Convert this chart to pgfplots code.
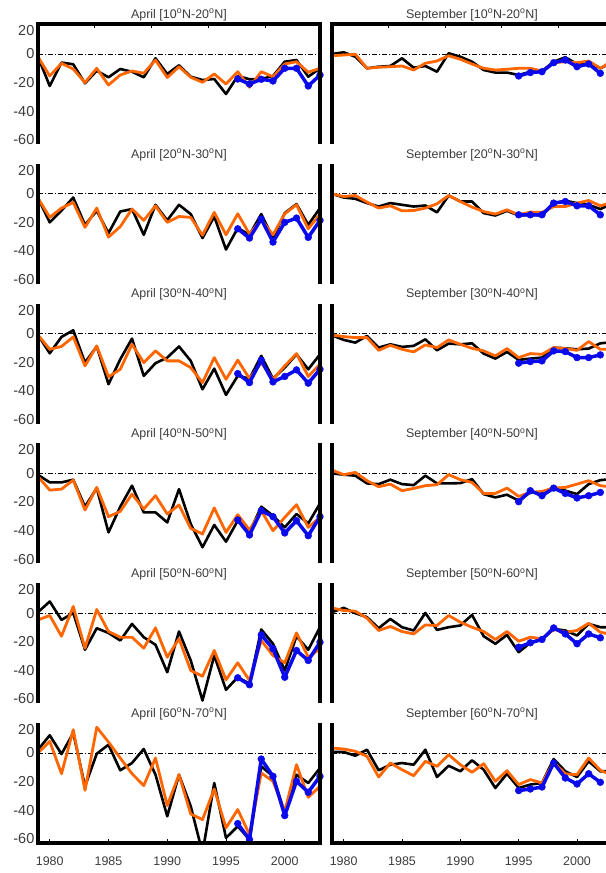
\documentclass[border=0pt]{standalone}
\usepackage{pgfplots}
\pgfplotsset{compat=1.18}
\usepackage{pgfplotstable}
\usepackage{fontspec}
\setmainfont{Liberation Sans}
\definecolor{myor}{RGB}{255,102,0}
\definecolor{myblue}{RGB}{10,10,235}
\definecolor{txt}{RGB}{60,60,60}

% ---------------- April panels ----------------
\pgfplotstableread{
yr k o b
1979 -2 -2 nan
1980 -22.4 -15.4 nan
1981 -6 -6.5 nan
1982 -7.2 -10.5 nan
1983 -20.5 -20 nan
1984 -11.7 -10 nan
1985 -16.3 -21.7 nan
1986 -10.5 -14.7 nan
1987 -12.4 -11.9 nan
1988 -16.3 -13.5 nan
1989 -3 -4.2 nan
1990 -14 -16.5 nan
1991 -7.9 -8.9 nan
1992 -15.9 -16.3 nan
1993 -18.2 -19.8 nan
1994 -17.5 -14 nan
1995 -28 -21 nan
1996 -15.4 -12.4 -17.5
1997 -17.7 -23.3 -21
1998 -17.5 -12.4 -17.7
1999 -15.4 -15.9 -18.9
2000 -5.4 -7 -10
2001 -4.2 -5.4 -10
2002 -15.9 -12.8 -22.4
2003 -10 -10 -14.7
}\tAa
\pgfplotstableread{
yr k o b
1979 -3 -3 nan
1980 -20 -16.5 nan
1981 -11.7 -10 nan
1982 -2.6 -6 nan
1983 -21.7 -23.5 nan
1984 -11.9 -10 nan
1985 -27.5 -30.3 nan
1986 -12.4 -23 nan
1987 -10.7 -10.7 nan
1988 -28.7 -18.6 nan
1989 -7.7 -8.4 nan
1990 -18.6 -20 nan
1991 -7.7 -15.9 nan
1992 -14.2 -16.5 nan
1993 -31 -29 nan
1994 -15.9 -13 nan
1995 -39 -28.7 nan
1996 -24 -14 -24.5
1997 -28.7 -28.2 -31
1998 -14.2 -18 -17.7
1999 -31 -28.7 -33.8
2000 -13.5 -14 -20
2001 -7.2 -7.7 -17
2002 -21.7 -24.5 -30.5
2003 -10 -14.2 -18.6
}\tAb
\pgfplotstableread{
yr k o b
1979 -1 -1 nan
1980 -13.8 -11 nan
1981 -2.3 -9 nan
1982 2.3 -2.3 nan
1983 -20.3 -22.6 nan
1984 -9 -8.6 nan
1985 -35.4 -30.3 nan
1986 -18 -25 nan
1987 -3.5 -7.5 nan
1988 -29.6 -20.3 nan
1989 -20.7 -12.1 nan
1990 -16.8 -19.1 nan
1991 -9 -19.1 nan
1992 -19.1 -23.8 nan
1993 -39 -34.3 nan
1994 -24.5 -16.8 nan
1995 -42.9 -32 nan
1996 -29.6 -18.6 -28
1997 -31.5 -31.5 -34.3
1998 -15.6 -20.3 -18.6
1999 -31.5 -32 -33.8
2000 -23.8 -22.6 -30
2001 -14.5 -14 -25.4
2002 -25 -30 -34.7
2003 -14.5 -21.4 -25
}\tAc
\pgfplotstableread{
yr k o b
1979 -1 -2.3 nan
1980 -6.3 -11.7 nan
1981 -6.3 -11 nan
1982 -4.4 -4.7 nan
1983 -23.3 -25.6 nan
1984 -10.3 -9.8 nan
1985 -41.3 -30.3 nan
1986 -23.3 -26.6 nan
1987 -8.6 -14.5 nan
1988 -27.3 -24.9 nan
1989 -27.3 -15.6 nan
1990 -34.3 -28.4 nan
1991 -11 -22.1 nan
1992 -35.4 -38.5 nan
1993 -51.7 -42.4 nan
1994 -36.1 -24.2 nan
1995 -47.8 -41.3 nan
1996 -33.1 -28.9 -32.6
1997 -41.3 -39.6 -43.1
1998 -23.3 -26.1 -26.1
1999 -29.6 -40.1 -30.3
2000 -37.8 -30.8 -41.7
2001 -28.4 -21.9 -33.1
2002 -35 -37.8 -43.6
2003 -21 -30.8 -30.3
}\tAd
\pgfplotstableread{
yr k o b
1979 0.7 -4.7 nan
1980 8.2 -1.6 nan
1981 -4.7 -16.1 nan
1982 0.2 4.7 nan
1983 -25.6 -24.5 nan
1984 -10.5 2.6 nan
1985 -13.8 -12.8 nan
1986 -19.1 -16.8 nan
1987 -7.5 -16.8 nan
1988 -16.8 -24.5 nan
1989 -22.1 -10.3 nan
1990 -41.3 -30.8 nan
1991 -12.8 -17.9 nan
1992 -33.1 -40.1 nan
1993 -61.1 -44.1 nan
1994 -29.6 -26.1 nan
1995 -53.6 -46.6 nan
1996 -44.8 -34.7 -45.2
1997 -49.4 -47.1 -50.1
1998 -11.4 -19.1 -15.2
1999 -21.4 -29.6 -24.9
2000 -40.1 -34.7 -44.8
2001 -16.1 -13.8 -26.1
2002 -25.6 -30.8 -33.1
2003 -9.8 -24.9 -20.3
}\tAe
\pgfplotstableread{
yr k o b
1979 2.3 0 nan
1980 12.4 8.2 nan
1981 -0.7 -14.5 nan
1982 14 16.3 nan
1983 -23.3 -26.1 nan
1984 -0.5 18 nan
1985 5.8 7.7 nan
1986 -12.1 -3.5 nan
1987 -7 -14.5 nan
1988 2.8 -22.8 nan
1989 -15.2 -3.5 nan
1990 -44.3 -36.8 nan
1991 -15.2 -15.2 nan
1992 -37.3 -42.7 nan
1993 -70 -46.6 nan
1994 -21 -25.2 nan
1995 -59.4 -52.4 nan
1996 -51.3 -39.6 -49.4
1997 -60.6 -57.1 -60.6
1998 -9.3 -14 -4.2
1999 -16.3 -19.8 -16.3
2000 -42 -40.8 -43.8
2001 -15.2 -8.2 -19.8
2002 -21 -31 -27.5
2003 -10.5 -23.3 -16.3
}\tAf
% ---------------- September panels ----------------
\pgfplotstableread{
yr k o b
1979 0 -1.2 nan
1980 1.2 -0.7 nan
1981 -1.9 -0.2 nan
1982 -10 -10 nan
1983 -8.9 -9.3 nan
1984 -8.4 -8.9 nan
1985 -3 -8.4 nan
1986 -9.6 -11.2 nan
1987 -8.4 -6.5 nan
1988 -12.4 -4.9 nan
1989 0.5 -1.2 nan
1990 -1.9 -3.7 nan
1991 -5.4 -7 nan
1992 -11.2 -10 nan
1993 -13 -11.2 nan
1994 -13 -10.7 nan
1995 -14.7 -10 -15.4
1996 -12.4 -10 -13
1997 -11.9 -11.9 -12.4
1998 -5.4 -6.1 -6.1
1999 -2.3 -5.4 -4.2
2000 -7 -6.1 -8.9
2001 -6.1 -4.9 -7
2002 -10 -10 -13.5
2003 -6 -5 nan
}\tSa
\pgfplotstableread{
yr k o b
1979 0 0 nan
1980 -2.6 -1.9 nan
1981 -3.5 -1.2 nan
1982 -6.5 -5.8 nan
1983 -8.9 -10 nan
1984 -6.5 -8.4 nan
1985 -7.7 -11.9 nan
1986 -8.9 -11.7 nan
1987 -8.2 -10 nan
1988 -13 -7 nan
1989 -1.2 -1.2 nan
1990 -5.4 -5.4 nan
1991 -5.4 -9.3 nan
1992 -13.5 -12.4 nan
1993 -15.2 -14.2 nan
1994 -11.9 -11.2 nan
1995 -15.2 -14.7 -14.7
1996 -14.7 -12.8 -14.7
1997 -15.2 -13 -14.7
1998 -6.5 -8.9 -6.5
1999 -4.9 -8.9 -5.4
2000 -6.5 -6.5 -8.4
2001 -7.7 -4.7 -8.4
2002 -10.7 -8.4 -14.7
2003 -7 -6 nan
}\tSb
\pgfplotstableread{
yr k o b
1979 -1.2 -1 nan
1980 -4.4 -2.1 nan
1981 -6.3 -2.8 nan
1982 -1.6 -2.8 nan
1983 -9.8 -11.7 nan
1984 -7.5 -8.2 nan
1985 -9.3 -11 nan
1986 -8.6 -12.8 nan
1987 -4 -7.9 nan
1988 -11.7 -9.8 nan
1989 -7 -4.4 nan
1990 -7.5 -7.5 nan
1991 -6.8 -10.3 nan
1992 -14 -12.1 nan
1993 -17.5 -15.6 nan
1994 -12.8 -10.5 nan
1995 -18.4 -16.8 -20.7
1996 -17.5 -14 -19.6
1997 -16.8 -14.5 -19.1
1998 -9.8 -9.8 -12.1
1999 -10.3 -10.5 -12.6
2000 -11 -11.7 -16.8
2001 -10.5 -5.6 -16.8
2002 -6.8 -11 -14.9
2003 -6 -11 nan
}\tSc
\pgfplotstableread{
yr k o b
1979 0 2.3 nan
1980 -0.9 -0.9 nan
1981 -1.6 0.7 nan
1982 -7 -5.1 nan
1983 -7.5 -9.3 nan
1984 -4.4 -7.5 nan
1985 -7.5 -12.1 nan
1986 -8.2 -10.5 nan
1987 -1.6 -8.6 nan
1988 -7 -7.9 nan
1989 -7 -0.9 nan
1990 -6.8 -4.4 nan
1991 -4 -6.3 nan
1992 -14.5 -14 nan
1993 -16.8 -14 nan
1994 -14.9 -10.3 nan
1995 -19.1 -16.1 -19.8
1996 -13.3 -13.3 -12.1
1997 -13.3 -12.6 -15.6
1998 -9.8 -10.3 -10.3
1999 -12.1 -9.8 -14
2000 -14.5 -7.5 -17.2
2001 -7.5 -5.1 -15.6
2002 -4.7 -8.6 -13.3
2003 -4 -9.5 nan
}\tSd
\pgfplotstableread{
yr k o b
1979 0.7 3.7 nan
1980 3.7 1.9 nan
1981 0 1.4 nan
1982 -2.8 -3.5 nan
1983 -10.5 -12.1 nan
1984 -4 -9.3 nan
1985 -9.8 -12.8 nan
1986 -12.1 -14.5 nan
1987 0.2 -8.2 nan
1988 -11.7 -8.6 nan
1989 -9.8 -1.6 nan
1990 -8.6 -6.3 nan
1991 -1.2 -9.8 nan
1992 -16.1 -12.8 nan
1993 -21.4 -18.4 nan
1994 -15.2 -12.8 nan
1995 -27.3 -19.6 -23.8
1996 -20.7 -16.8 -20.7
1997 -17.9 -17.9 -18.4
1998 -11 -11.4 -10.3
1999 -12.1 -13.3 -14.5
2000 -15.6 -12.1 -21.4
2001 -7.5 -7 -14.5
2002 -9.8 -13.3 -17.2
2003 -9.8 -15 nan
}\tSe
\pgfplotstableread{
yr k o b
1979 0.7 3.5 nan
1980 0.7 2.8 nan
1981 -1.9 1.2 nan
1982 2.3 -2.3 nan
1983 -12.1 -16.8 nan
1984 -8.2 -7 nan
1985 -7 -11.7 nan
1986 -8.2 -15.9 nan
1987 2.3 -5.8 nan
1988 -16.8 -9.3 nan
1989 -8.9 -1.2 nan
1990 -12.8 -8.2 nan
1991 -5.1 -13.5 nan
1992 -11.7 -7.5 nan
1993 -24.5 -19.8 nan
1994 -14.5 -12.4 nan
1995 -24.5 -22.1 -26.3
1996 -22.1 -18.6 -25.2
1997 -21 -21 -23.8
1998 -4.2 -6.5 -7
1999 -12.8 -14.5 -17.5
2000 -16.8 -15.2 -21.7
2001 -5.8 -3.5 -14.5
2002 -12.8 -12.1 -20.5
2003 -12.8 -15.5 nan
}\tSf

\pgfplotsset{
  panel/.style={
    scale only axis, height=120bp,
    ymin=-63, ymax=21, xmin=1979, xmax=2003,
    axis line style={draw=none},
    clip mode=individual,
    unbounded coords=jump,
    ytick=\empty, xtick=\empty,
    /pgf/number format/assume math mode=true,
    tick label style={text=txt},
    xtick align=inside, major tick length=4bp,
    xtick style={black, line width=1bp},
  },
  leftp/.style={panel, width=282bp,
    ytick={-60,-40,-20,0}, yticklabels={-60,-40,-20,0},
    extra y ticks={20}, extra y tick labels={20},
    extra y tick style={yticklabel style={yshift=-5bp}},
    ytick style={draw=none},
    yticklabel style={font=\fontsize{14.5}{14.5}\selectfont, inner sep=1.5bp, xshift=-2bp},
  },
  rightp/.style={panel, width=280bp},
  toprow/.style={xtick={1983.85,1988.7,1993.55,1998.4}, xticklabels={}, xtick pos=upper},
  botrow/.style={xtick={1980,1985,1990,1995,2000}, xticklabels={1980,1985,1990,1995,2000},
    xtick pos=lower,
    xticklabel style={font=\fontsize{12.5}{12.5}\selectfont, yshift=-10bp}},
}
\tikzset{fr/.style={line width=3.6bp, black, line join=miter}}

\newcommand{\series}[1]{%
  \addplot[black, line width=0.8bp, dash pattern=on 5bp off 2bp on 1bp off 2bp] coordinates {(1979,0) (2003,0)};
  \addplot[black, line width=2.6bp, line join=round] table[x=yr,y=k]{#1};
  \addplot[myor, line width=2.8bp, line join=round] table[x=yr,y=o]{#1};
  \addplot[myblue, line width=3.5bp, line join=round, mark=*, mark size=3.4bp, mark options={fill=myblue, draw=myblue, line width=0.5bp}] table[x=yr,y=b]{#1};
}
\newcommand{\ttl}[1]{\node[font=\fontsize{12.5}{12.5}\selectfont, text=txt, anchor=base, yshift=5.7bp] at (rel axis cs:0.5,1) {#1};}
\newcommand{\frTop}{\draw[fr] (rel axis cs:0,0) -- (rel axis cs:0,1) -- (rel axis cs:1,1) -- (rel axis cs:1,0);}
\newcommand{\frMid}{\draw[fr] (rel axis cs:0,0) -- (rel axis cs:0,1); \draw[fr] (rel axis cs:1,0) -- (rel axis cs:1,1);}
\newcommand{\frBot}{\draw[fr] (rel axis cs:0,1) -- (rel axis cs:0,0) -- (rel axis cs:1,0) -- (rel axis cs:1,1);}
\newcommand{\dg}{\textsuperscript{o}}

\begin{document}
\begin{tikzpicture}
\useasboundingbox (0,0) rectangle (606bp,-873bp);
\clip (0,0) rectangle (606bp,-873bp);
% ---- row 1
\begin{axis}[leftp, toprow, at={(38bp,-24bp)}, anchor=north west]
\series{\tAa}\ttl{April [10\dg N-20\dg N]}\frTop
\end{axis}
\begin{axis}[rightp, toprow, at={(332bp,-24bp)}, anchor=north west]
\series{\tSa}\ttl{September [10\dg N-20\dg N]}\frTop
\end{axis}
% ---- row 2
\begin{axis}[leftp, at={(38bp,-163.8bp)}, anchor=north west]
\series{\tAb}\ttl{April [20\dg N-30\dg N]}\frMid
\end{axis}
\begin{axis}[rightp, at={(332bp,-163.8bp)}, anchor=north west]
\series{\tSb}\ttl{September [20\dg N-30\dg N]}\frMid
\end{axis}
% ---- row 3
\begin{axis}[leftp, at={(38bp,-303.6bp)}, anchor=north west]
\series{\tAc}\ttl{April [30\dg N-40\dg N]}\frMid
\end{axis}
\begin{axis}[rightp, at={(332bp,-303.6bp)}, anchor=north west]
\series{\tSc}\ttl{September [30\dg N-40\dg N]}\frMid
\end{axis}
% ---- row 4
\begin{axis}[leftp, at={(38bp,-443.4bp)}, anchor=north west]
\series{\tAd}\ttl{April [40\dg N-50\dg N]}\frMid
\end{axis}
\begin{axis}[rightp, at={(332bp,-443.4bp)}, anchor=north west]
\series{\tSd}\ttl{September [40\dg N-50\dg N]}\frMid
\end{axis}
% ---- row 5
\begin{axis}[leftp, at={(38bp,-583.2bp)}, anchor=north west]
\series{\tAe}\ttl{April [50\dg N-60\dg N]}\frMid
\end{axis}
\begin{axis}[rightp, at={(332bp,-583.2bp)}, anchor=north west]
\series{\tSe}\ttl{September [50\dg N-60\dg N]}\frMid
\end{axis}
% ---- row 6
\begin{axis}[leftp, botrow, at={(38bp,-723bp)}, anchor=north west]
\series{\tAf}\ttl{April [60\dg N-70\dg N]}\frBot
\end{axis}
\begin{axis}[rightp, botrow, at={(332bp,-723bp)}, anchor=north west]
\series{\tSf}\ttl{September [60\dg N-70\dg N]}\frBot
\end{axis}
\end{tikzpicture}
\end{document}
